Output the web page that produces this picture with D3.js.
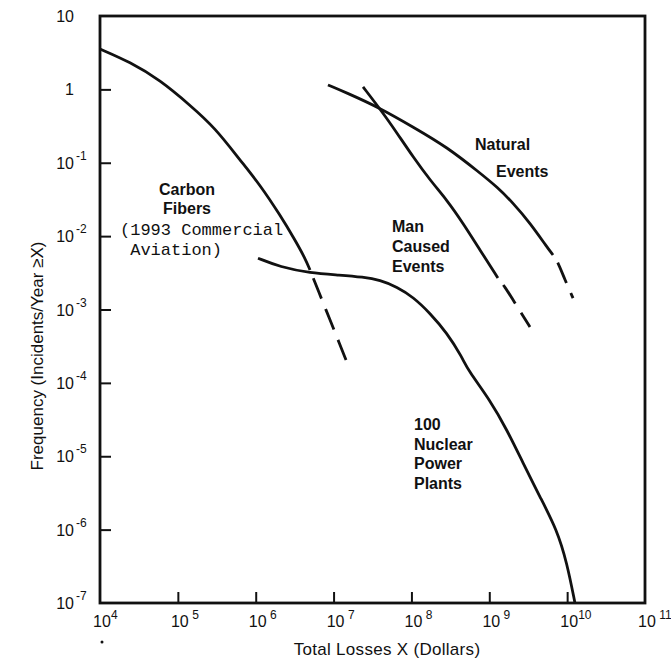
<!DOCTYPE html>
<html>
<head>
<meta charset="utf-8">
<script src="https://cdn.jsdelivr.net/npm/d3@7"></script>
<style>
body { margin: 0; background: #fff; }
text { font-family: "Liberation Sans", Arial, Helvetica, sans-serif; fill: #111; white-space: pre; }
</style>
</head>
<body>
<svg id="chart"></svg>
<script>
// tick labels
var xTicks = [1e4, 1e5, 1e6, 1e7, 1e8, 1e9, 1e10, 1e11]
var xTickSup = ["4", " 5", " 6", " 7", " 8", " 9", "10", " 11"]
var yTicks = [1e-7, 1e-6, 1e-5, 1e-4, 1e-3, 1e-2, 1e-1, 1, 10]
var yTickBase = ["10", "10", "10", "10", "10", "10", "10", "1", "10"]
var yTickSup = ["-7", "-6", "-5", "-4", "-3", "-2", "-1", "", ""]

// curves (x = dollars, y = incidents / year)
var carbonSolidX = [1e4, 2.43e4, 5.9e4, 1.43e5, 3.0e5, 6.28e5, 1.135e6, 2.05e6, 3.19e6, 4.3e6, 4.98e6]
var carbonSolidY = [3.55, 2.36, 1.34, 0.61, 0.30, 0.109, 0.050, 0.0194, 0.0089, 0.0050, 0.00345]
var carbonDashX = [4.98e6, 6.3e6, 9.0e6, 1.21e7, 1.445e7]
var carbonDashY = [0.00345, 0.00185, 7.2e-4, 3.3e-4, 2.05e-4]

var nuclearX = [1.07e6, 2.05e6, 4.98e6, 1.21e7, 2.39e7, 3.95e7, 6.53e7, 1.05e8, 1.73e8, 2.86e8, 4.46e8, 5.3e8, 1.02e9, 1.69e9, 2.71e9, 4.48e9, 7.41e9, 9.96e9, 1.26e10]
var nuclearY = [5.0e-3, 3.8e-3, 3.14e-3, 2.95e-3, 2.77e-3, 2.52e-3, 2.03e-3, 1.48e-3, 8.95e-4, 4.78e-4, 2.25e-4, 1.5e-4, 5.85e-5, 2.28e-5, 8.1e-6, 2.79e-6, 9.9e-7, 3.5e-7, 1e-7]

var naturalSolidX = [8.47e6, 1.49e7, 3.95e7, 1.05e8, 2.86e8, 7.6e8, 1.26e9, 2.02e9, 3.33e9, 5.51e9, 6.58e9]
var naturalSolidY = [1.15, 0.893, 0.557, 0.307, 0.164, 0.0725, 0.0468, 0.0283, 0.0151, 0.0071, 0.00553]
var naturalDashX = [6.58e9, 7.41e9, 9.4e9, 1.19e10]
var naturalDashY = [0.00553, 0.00473, 0.00252, 0.00143]

var manSolidX = [2.39e7, 4.32e7, 6.53e7, 1.05e8, 1.73e8, 2.86e8, 4.59e8, 7.6e8, 1.29e9]
var manSolidY = [1.08, 0.477, 0.254, 0.120, 0.0582, 0.031, 0.0151, 0.00647, 0.00269]
var manDashX = [1.29e9, 1.59e9, 2.02e9, 2.34e9, 3.33e9]
var manDashY = [0.00269, 0.00203, 0.00135, 0.00105, 5.77e-4]

// annotation texts
var carbonLabel = ["Carbon", "Fibers"]
var aviationLabel = ["(1993 Commercial", " Aviation)"]
var naturalLabel = ["Natural", "Events"]
var manLabel = ["Man", "Caused", "Events"]
var nuclearLabel = ["100", "Nuclear", "Power", "Plants"]

var width = 671
var height = 660

var svg = d3.select("#chart").attr("width", width).attr("height", height)

var x = d3.scaleLog().domain([1e4, 1e11]).range([100, 645])
var y = d3.scaleLog().domain([1e-7, 10]).range([603, 16])

// inward ticks
svg.append("g")
	.attr("transform", "translate(0,603)")
	.call(d3.axisBottom(x).tickValues(xTicks.slice(1, -1)).tickSize(-11).tickFormat(""))
	.call(g => g.select(".domain").remove())
	.call(g => g.selectAll(".tick line").attr("stroke", "#111").attr("stroke-width", 2))

svg.append("g")
	.attr("transform", "translate(100,0)")
	.call(d3.axisLeft(y).tickValues(yTicks.slice(1, -1)).tickSize(-11).tickFormat(""))
	.call(g => g.select(".domain").remove())
	.call(g => g.selectAll(".tick line").attr("stroke", "#111").attr("stroke-width", 2))

// frame
svg.append("rect")
	.attr("x", x.range()[0])
	.attr("y", y.range()[1])
	.attr("width", x.range()[1] - x.range()[0])
	.attr("height", y.range()[0] - y.range()[1])
	.attr("fill", "none")
	.attr("stroke", "#111")
	.attr("stroke-width", 2.8)

// x tick labels
var xl = svg.selectAll(".xlab").data(xTicks).enter().append("g").attr("class", "xlab")
xl.append("text")
	.attr("x", d => x(d) + 2)
	.attr("y", 627)
	.attr("text-anchor", "middle")
	.attr("font-size", 16)
	.text("10")
xl.append("text")
	.attr("x", d => x(d) + 11)
	.attr("y", 619)
	.attr("font-size", 12)
	.text((d, i) => xTickSup[i])

// y tick labels
var yl = svg.selectAll(".ylab").data(yTicks).enter().append("g").attr("class", "ylab")
yl.append("text")
	.attr("x", 74)
	.attr("y", d => y(d) + 6)
	.attr("text-anchor", "end")
	.attr("font-size", 16)
	.text((d, i) => yTickBase[i])
yl.append("text")
	.attr("x", 76)
	.attr("y", d => y(d) - 3)
	.attr("font-size", 12)
	.text((d, i) => yTickSup[i])

// axis titles
svg.append("text")
	.attr("x", 387)
	.attr("y", 655)
	.attr("text-anchor", "middle")
	.attr("font-size", 17)
	.attr("letter-spacing", 0.3)
	.text("Total Losses X (Dollars)")

svg.append("text")
	.attr("transform", "translate(43,356) rotate(-90)")
	.attr("text-anchor", "middle")
	.attr("font-size", 17)
	.text("Frequency (Incidents/Year \u2265X)")

svg.append("circle").attr("cx", 102).attr("cy", 642).attr("r", 1.5).attr("fill", "#111")

// curves
var line = d3.line()
	.x(d => x(d[0]))
	.y(d => y(d[1]))
	.curve(d3.curveBasis)

function curve(xs, ys, dashed) {
	var p = svg.append("path")
		.datum(d3.zip(xs, ys))
		.attr("d", line)
		.attr("fill", "none")
		.attr("stroke", "#111")
		.attr("stroke-width", 2.8)
	if (dashed) {
		p.attr("stroke-dasharray", "22,11").attr("stroke-dashoffset", 24)
	}
}

curve(carbonSolidX, carbonSolidY, false)
curve(carbonDashX, carbonDashY, true)
curve(nuclearX, nuclearY, false)
curve(naturalSolidX, naturalSolidY, false)
curve(naturalDashX, naturalDashY, true)
curve(manSolidX, manSolidY, false)
curve(manDashX, manDashY, true)

// annotations
function label(lines, x0, y0, step, anchor, font, size, weight) {
	var t = svg.append("text")
		.attr("font-size", size)
		.attr("font-weight", weight)
		.attr("text-anchor", anchor)
	if (font) t.style("font-family", font)
	t.selectAll("tspan")
		.data(lines)
		.enter()
		.append("tspan")
		.attr("x", x0)
		.attr("y", (d, i) => y0 + i * step)
		.text(d => d)
}

label(carbonLabel, 187, 195, 19, "middle", null, 16, "bold")
label(aviationLabel, 120, 235, 20, "start", "'Liberation Mono', 'DejaVu Sans Mono', monospace", 17, "normal")
label(manLabel, 392, 232, 20, "start", null, 16, "bold")
label(nuclearLabel, 414, 430, 19.5, "start", null, 16, "bold")

svg.append("text")
	.attr("font-size", 16)
	.attr("font-weight", "bold")
	.selectAll("tspan")
	.data(naturalLabel)
	.enter()
	.append("tspan")
	.attr("x", (d, i) => (i === 0 ? 475 : 496))
	.attr("y", (d, i) => (i === 0 ? 150 : 177))
	.text(d => d)
</script>
</body>
</html>
